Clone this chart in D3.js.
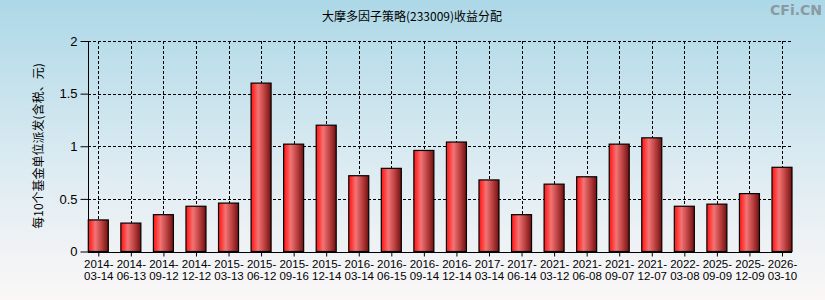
<!DOCTYPE html>
<html><head><meta charset="utf-8">
<script src="https://cdn.jsdelivr.net/npm/d3@7"></script>
<style>html,body{margin:0;padding:0;overflow:hidden;}svg{display:block;}</style>
</head><body>
<svg id="c" width="825" height="300"></svg>
<script>
const categories = ["2014-03-14","2014-06-13","2014-09-12","2014-12-12","2015-03-13","2015-06-12","2015-09-16","2015-12-14","2016-03-14","2016-06-15","2016-09-14","2016-12-14","2017-03-14","2017-06-14","2021-03-12","2021-06-08","2021-09-07","2021-12-07","2022-03-08","2025-09-09","2025-12-09","2026-03-10"];
const values = [0.30,0.27,0.35,0.43,0.46,1.60,1.02,1.20,0.72,0.79,0.96,1.04,0.68,0.35,0.64,0.71,1.02,1.08,0.43,0.45,0.55,0.80];
const yTicks = [0,0.5,1,1.5,2];
const yTickLabels = ["0","0.5","1","1.5","2"];
const title = "大摩多因子策略(233009)收益分配";
const yTitle = "每10个基金单位派发(含税、元)";

(function(){
const svg = d3.select("#c");
const W = 825, H = 300;
const pl = 88, pr = 792, pt = 41, pb = 251.5;
const barW = 20;

const defs = svg.append("defs");
const bg = defs.append("linearGradient").attr("id","bg").attr("x1",0).attr("y1",0).attr("x2",0).attr("y2",1);
bg.append("stop").attr("offset","0%").attr("stop-color","#add8e7");
bg.append("stop").attr("offset","55%").attr("stop-color","#dcebf2");
bg.append("stop").attr("offset","100%").attr("stop-color","#fbf7f7");
const bar = defs.append("linearGradient").attr("id","bar").attr("x1",0).attr("y1",0).attr("x2",1).attr("y2",0);
bar.append("stop").attr("offset","0%").attr("stop-color","#ff1a1a");
bar.append("stop").attr("offset","12%").attr("stop-color","#ff3030");
bar.append("stop").attr("offset","35%").attr("stop-color","#f27474");
bar.append("stop").attr("offset","65%").attr("stop-color","#c04444");
bar.append("stop").attr("offset","100%").attr("stop-color","#701010");

svg.append("rect").attr("width",W).attr("height",H).attr("fill","url(#bg)");

const x = d3.scalePoint().domain(categories).range([pl + barW/2 + 0.3, pr - barW/2]);
const y = d3.scaleLinear().domain([0,2]).range([pb, pt]);

svg.append("g").selectAll("line").data(yTicks.filter(d=>d>0)).join("line")
  .attr("x1",pl).attr("x2",pr-1)
  .attr("y1",d=>Math.round(y(d))+0.5).attr("y2",d=>Math.round(y(d))+0.5)
  .attr("stroke","#000").attr("stroke-width",1).attr("stroke-dasharray","3,2");
svg.append("g").selectAll("line").data(categories).join("line")
  .attr("x1",d=>Math.round(x(d))+0.5).attr("x2",d=>Math.round(x(d))+0.5)
  .attr("y1",pt).attr("y2",pb)
  .attr("stroke","#000").attr("stroke-width",1).attr("stroke-dasharray","3,2");

svg.append("g").selectAll("rect").data(values).join("rect")
  .attr("x",(d,i)=>x(categories[i]) - barW/2)
  .attr("width",barW)
  .attr("y",d=>y(d))
  .attr("height",d=>pb - y(d))
  .attr("fill","url(#bar)")
  .attr("stroke","#000").attr("stroke-width",1.2);

const yAxis = d3.axisLeft(y).tickValues(yTicks).tickFormat((d,i)=>yTickLabels[i]).tickSize(8).tickPadding(3);
const gy = svg.append("g").attr("transform",`translate(${pl+0.5},0)`).call(yAxis);
gy.select(".domain").attr("d",`M0,${pt}V${pb}`).attr("stroke","#000");
gy.selectAll(".tick line").attr("stroke","#000");
gy.selectAll(".tick text").attr("font-family","'Liberation Sans',Arial,sans-serif").attr("font-size","13px").attr("fill","#000");

const xAxis = d3.axisBottom(x).tickSize(4).tickFormat("");
const gx = svg.append("g").attr("transform",`translate(0,${Math.round(pb)+0.5})`).call(xAxis);
gx.select(".domain").attr("d",`M${pl},0H${pr}`).attr("stroke","#000").attr("stroke-width",1.2);
gx.selectAll(".tick line").attr("stroke","#000");
gx.selectAll(".tick").each(function(d){
  const parts = d.split("-");
  const t = d3.select(this).append("text").attr("fill","#000")
    .attr("font-family","'Liberation Sans',Arial,sans-serif").attr("font-size","11.5px")
    .attr("text-anchor","middle");
  t.append("tspan").attr("x",0).attr("y",15).text(parts[0]+"-");
  t.append("tspan").attr("x",0).attr("y",27).text(parts[1]+"-"+parts[2]);
});

svg.append("text").attr("x",412).attr("y",21).attr("text-anchor","middle")
  .attr("font-family","'Noto Sans CJK SC',sans-serif").attr("font-size","12px").attr("fill","#000").text(title);
svg.append("text").attr("transform","translate(43,146) rotate(-90)").attr("text-anchor","middle")
  .attr("font-family","'Noto Sans CJK SC',sans-serif").attr("font-size","12px").attr("fill","#000").text(yTitle);
svg.append("text").attr("x",822).attr("y",15).attr("text-anchor","end")
  .attr("font-family","'DejaVu Sans',sans-serif").attr("font-size","14px").attr("font-weight","bold").attr("fill","#8a9aa2").text("CFi.CN");
})();
</script>
</body></html>
